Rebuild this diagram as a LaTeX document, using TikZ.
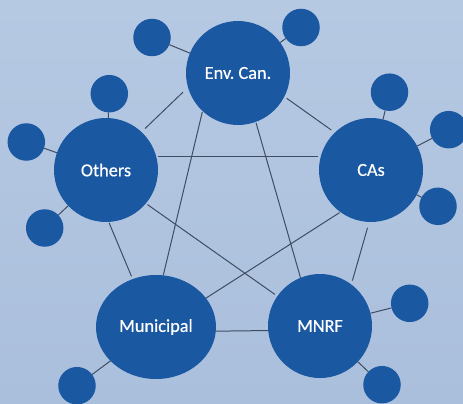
\documentclass[tikz,border=0pt]{standalone}
\usepackage{fontspec}
\setmainfont{Carlito}
\newfontfamily\hubfont{Carlito}[FakeBold=0.5]
\usetikzlibrary{shapes.geometric}
\definecolor{bgtop}{HTML}{B6C9E3}
\definecolor{bgbot}{HTML}{AABFDC}
\definecolor{hubblue}{HTML}{1A58A2}
\definecolor{wiregray}{HTML}{3F4D63}
\frenchspacing
\begin{document}
\begin{tikzpicture}[x=1pt,y=-1pt,
  hubnode/.style={circle,fill=hubblue,minimum size=104pt,inner sep=0pt,outer sep=0pt,
    text=white,font=\hubfont\fontsize{18.3}{22}\selectfont},
  sat/.style={circle,fill=hubblue,minimum size=37.5pt,inner sep=0pt,outer sep=0pt},
  wire/.style={draw=wiregray,line width=1pt}]
% backdrop
\shade[top color=bgtop,bottom color=bgbot] (0,0) rectangle (463,404);
\useasboundingbox (0,0) rectangle (463,404);

% main partners
\node[hubnode] (env) at (238,73) {Env.\ Can.};
\node[hubnode] (oth) at (106,170) {Others};
\node[hubnode] (cas) at (371,170) {CAs};
\node[hubnode,ellipse,minimum width=120pt,minimum height=104pt] (mun) at (156,327) {Municipal};
\node[hubnode] (mnr) at (320,326) {MNRF};

% satellite contacts
\node[sat] (e1) at (152,37.5) {};
\node[sat] (e2) at (301,27.5) {};
\node[sat] (o1) at (109.3,93.7) {};
\node[sat] (o2) at (26.3,142) {};
\node[sat] (o3) at (44.7,228) {};
\node[sat] (c1) at (389.5,92.2) {};
\node[sat] (c2) at (448.7,129.7) {};
\node[sat] (c3) at (438,206.3) {};
\node[sat] (n1) at (409.7,303.3) {};
\node[sat] (n2) at (382,384.7) {};
\node[sat] (m1) at (77,385.7) {};

% satellite links
\draw[wire] (e1) -- (env);
\draw[wire] (e2) -- (env);
\draw[wire] (o1) -- (oth);
\draw[wire] (o2) -- (oth);
\draw[wire] (o3) -- (oth);
\draw[wire] (c1) -- (cas);
\draw[wire] (c2) -- (cas);
\draw[wire] (c3) -- (cas);
\draw[wire] (n1) -- (mnr);
\draw[wire] (n2) -- (mnr);
\draw[wire] (m1) -- (mun);

% links between the main partners
\draw[wire,shorten <=7pt,shorten >=5pt] (env.196) -- (oth.47);
\draw[wire,shorten <=3pt,shorten >=4.5pt] (env.333) -- (cas.134);
\draw[wire,shorten <=2pt,shorten >=3pt] (oth.15) -- (cas.165);
\draw[wire,shorten <=1pt] (env.227) -- (mun.82);
\draw[wire,shorten <=1pt] (env.290) -- (mnr.112);
\draw[wire,shorten <=1pt,shorten >=3pt] (oth.273) -- (mun.116);
\draw[wire,shorten <=2pt,shorten >=3pt] (oth.320) -- (mnr.145);
\draw[wire,shorten <=1pt] (cas.234) -- (mun.30);
\draw[wire,shorten <=6pt,shorten >=4pt] (cas.268) -- (mnr.53);
\draw[wire] (mun.356) -- (mnr.185);
\end{tikzpicture}
\end{document}
